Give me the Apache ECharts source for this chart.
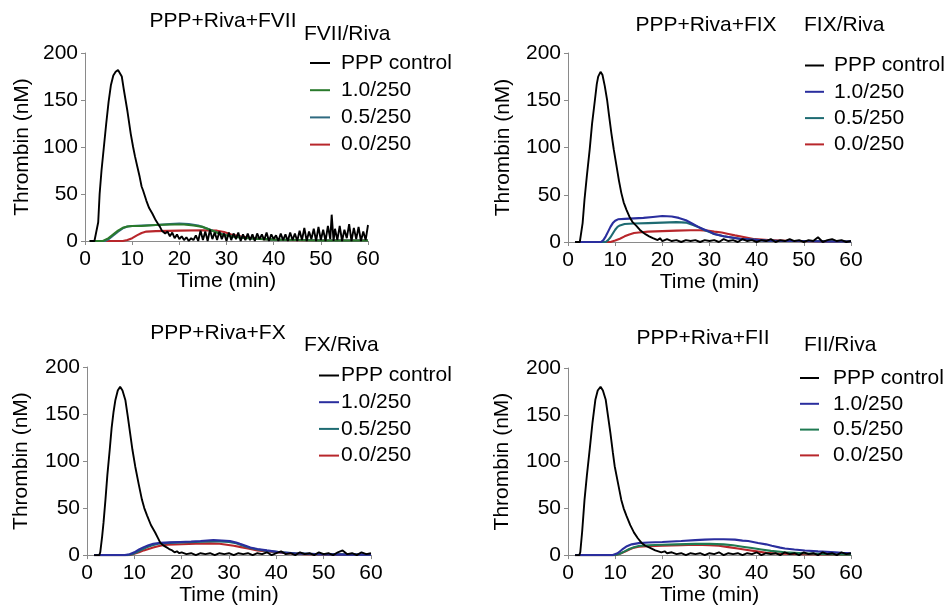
<!DOCTYPE html>
<html>
<head>
<meta charset="utf-8">
<script src="https://cdn.jsdelivr.net/npm/echarts@6/dist/echarts.min.js"></script>
<style>
  html, body { margin: 0; padding: 0; background: #fff; }
  #chart { width: 949px; height: 607px; }
</style>
</head>
<body>
<div id="chart"></div>
<script>
const panelTitles = ["PPP+Riva+FVII", "PPP+Riva+FIX", "PPP+Riva+FX", "PPP+Riva+FII"];
const legendTitles = ["FVII/Riva", "FIX/Riva", "FX/Riva", "FII/Riva"];
const seriesLabels = ["PPP control", "1.0/250", "0.5/250", "0.0/250"];
const xTicks = [0, 10, 20, 30, 40, 50, 60];
const yTicks = [0, 50, 100, 150, 200];

// FVII panel
const fviiControl = [[1,0],[2,0],[2.4,2],[2.8,20],[3.1,50],[3.5,75],[4,100],[4.5,125],[5,148],[5.5,166],[6,176],[6.5,180],[7,182],[7.4,183],[7.8,175],[8.2,162],[8.6,150],[9,138],[9.7,114],[10.2,100],[10.6,90],[11.1,79],[11.6,68],[12,58],[12.3,54],[13,43],[13.6,35],[14.3,29],[15,22],[15.5,18],[15.9,15],[16.3,11],[16.7,13],[17,8],[17.5,10],[18,5],[18.5,9],[19,3],[19.5,7],[20,2],[20.5,5],[21,1],[21.5,4],[22,0],[22.5,3],[23,1],[23.5,6],[24,0],[24.5,11],[25,1],[25.5,10],[26,0],[26.5,12],[27,2],[27.5,9],[28,1],[28.5,10],[29,2],[29.5,8],[30,0],[30.5,9],[31,1],[31.5,8],[32,2],[32.5,9],[33,0],[33.5,7],[34,1],[34.5,8],[35,1],[35.5,7],[36,0],[36.5,8],[37,2],[37.5,7],[38,1],[38.5,9],[39,0],[39.5,7],[40,2],[40.5,6],[41,0],[41.5,8],[42,1],[42.5,7],[43,0],[43.5,9],[44,1],[44.5,8],[45,0],[45.5,11],[46,1],[46.5,14],[47,0],[47.5,10],[48,2],[48.5,13],[49,0],[49.5,15],[50,1],[50.5,12],[51,0],[51.5,16],[52,2],[52.3,28],[52.7,0],[53,13],[53.5,1],[54,16],[54.5,0],[55,12],[55.5,3],[56,18],[56.5,0],[57,14],[57.5,2],[58,15],[58.5,0],[59,10],[59.5,1],[60,17]];
const fvii10 = [[1,0],[3.8,0],[5,3],[6,7],[7,11],[8,14],[9,15.5],[10,16],[12,16],[15,17],[18,17.5],[21,17.5],[23,16.5],[25,15],[27,11],[29,7],[31,5],[33,3.5],[36,2.5],[40,1.5],[45,1],[50,0.5],[55,0.5],[60,0.5]];
const fvii05 = [[1,0],[4.2,0],[5,2],[6,6],[7,10],[8,13.5],[9,15.5],[10,16],[12,16.5],[15,17],[18,18],[20,18.5],[22,18],[24,16.5],[26,13],[28,9],[30,6],[32,4.5],[35,3],[40,1.5],[45,1],[50,0.5],[60,0.5]];
const fvii00 = [[1,0],[8,0],[9,1],[10,3],[11,6],[12,8.5],[13,10],[15,10.5],[20,11],[25,11.5],[28,11],[29.5,9.5],[31,7],[33,5],[35,3.5],[38,2],[42,1],[50,0.5],[60,0.5]];

// FIX panel
const fixControl = [[1.5,0],[2.5,0],[2.7,2],[3.1,20],[3.5,45],[4,70],[4.6,98],[5.1,125],[5.7,150],[6.1,167],[6.4,175],[6.9,180],[7.3,177],[7.8,165],[8.3,150],[8.7,134],[9.2,115],[9.7,98],[10.3,80],[10.8,65],[11.3,52],[11.8,42],[12.4,34],[13,27],[13.7,21],[14.5,17],[15.2,13],[15.9,10],[16.5,8],[17.2,6],[18,4],[18.4,3],[19,2],[19.5,4],[20,1],[21,3],[22,1],[23,2],[24,0],[25,2],[26,1],[27,2],[28,0],[29,2],[30,1],[31,2],[32,0],[33,3],[34,1],[35,2],[36,0],[37,3],[38,1],[39,2],[40,0],[41,2],[42,1],[43,3],[44,0],[45,2],[46,1],[47,3],[48,1],[49,2],[50,0],[51,2],[52,1],[53,5],[54,0],[55,2],[56,3],[57,1],[58,2],[59,0],[60,1]];
const fix10 = [[1.5,0],[7,0],[7.5,2],[8,6],[8.5,11],[9,16],[9.5,20],[10,22.5],[10.6,24],[12,24.5],[14,25],[16,25.5],[18,26.5],[20,27.5],[22,27],[23.5,25.5],[25,23],[26.5,19],[28,15],[29,13],[30,11],[31,8.5],[33,6],[35,4.5],[37,3],[39,2.5],[42,1.5],[45,1],[50,1],[55,0.5],[60,0.5]];
const fix05 = [[1.5,0],[8,0],[8.5,2],[9,5],[9.5,9],[10,13],[10.5,16],[11,17.5],[12,19],[14,19.5],[17,20],[20,20.5],[23,21],[25,20.5],[26.5,18],[28,15],[29,12.5],[30,10.5],[31,8.5],[33,6],[35,4.5],[37,3],[39,2.5],[42,1.5],[45,1],[50,1],[60,0.5]];
const fix00 = [[1.5,0],[9,0],[10,1.5],[11,3.5],[12,6],[13,8],[14,9.5],[15,10],[17,11],[20,11.5],[23,12],[26,12.5],[28,12.5],[29.5,12],[31,11],[32.6,10],[34,8.5],[35.4,7],[37.5,5],[39.6,3],[42.5,2],[47.5,1],[55,0.5],[60,0.5]];

// FX panel
const fxControl = [[1.5,0],[2.6,0],[2.8,3],[3.2,20],[3.5,35],[3.9,59],[4.3,85],[4.8,112],[5.2,135],[5.6,152],[6,165],[6.5,175],[7,179],[7.5,175],[8.1,165],[8.6,148],[9.1,130],[9.6,112],[10.2,94],[10.9,76],[11.6,59],[12.1,50],[12.7,42],[13.5,32],[14.4,24],[15,18],[15.5,13],[16.2,10],[16.9,8],[17.5,6],[18,5],[18.5,3],[19,4],[19.5,2],[20,3],[21,1],[22,2],[23,0],[24,2],[25,1],[26,2],[27,0],[28,2],[29,1],[30,2],[31,0],[32,2],[33,1],[34,2],[35,0],[36,2],[37,1],[38,3],[39,0],[40,2],[41,4],[42,1],[43,2],[44,0],[45,3],[46,1],[47,2],[48,0],[49,3],[50,1],[51,2],[52,0],[53,3],[54,5],[55,1],[56,2],[57,0],[58,3],[59,1],[60,2]];
const fx10 = [[1.5,0],[8,0],[9,1],[10,3],[11,6],[12,8.5],[13,10.5],[14,12],[15.5,13],[17.5,13.5],[19.7,14],[22,14.5],[24,15],[26.7,16],[28.5,15.5],[30.2,15],[31.5,13.5],[32.3,12],[33.5,10],[34.5,8],[36,6.5],[38,5],[40.8,3],[43.6,2],[48.5,1],[55,0.5],[60,0.5]];
const fx05 = [[1.5,0],[8.5,0],[9.5,1],[10.5,3],[11.5,5.5],[12.5,8],[13.5,10],[15,12],[17.5,13],[20,13.5],[23,14],[26,14.5],[28,14.5],[30,14],[31.5,12.5],[33,10],[34.5,7.5],[36,6],[38,4.5],[41,3],[44,2],[48,1],[60,0.5]];
const fx00 = [[1.5,0],[9,0],[10,1.5],[11,3],[12,5],[13,6.5],[14,8],[15,9.5],[16,10.5],[17,11],[20,11.5],[23,12],[26,12.5],[28,12],[29.5,11],[31,10],[32.5,8.5],[34,7],[36,5],[38,4],[40,3],[42,2],[46,1],[52,0.5],[60,0.5]];

// FII panel
const fiiControl = [[1.5,0],[2.4,0],[2.6,3],[3,25],[3.5,59],[4,85],[4.6,113],[5.2,142],[5.8,166],[6.3,176],[6.9,180],[7.4,176],[8,166],[8.5,148],[9,130],[9.5,110],[9.9,95],[10.6,77],[11.3,59],[11.8,50],[12.4,42],[13.2,32],[14,24],[14.8,18],[15.6,13],[16.4,10],[17.3,8],[18.5,5],[19.8,3],[20.5,4],[21,2],[22,3],[23,1],[24,2],[25,0],[26,2],[27,1],[28,2],[29,0],[30,2],[31,1],[32,3],[33,0],[34,2],[35,1],[36,2],[37,0],[38,2],[39,1],[40,3],[41,0],[42,2],[43,1],[44,2],[45,0],[46,3],[47,1],[48,2],[49,0],[50,3],[51,1],[52,2],[53,0],[54,3],[55,1],[56,2],[57,0],[58,3],[59,1],[60,2]];
const fii10 = [[1.5,0],[9.5,0],[10.5,2],[11.5,6],[12.5,9.5],[13.5,11.5],[15,12.8],[17,13.5],[20,14],[22,14.5],[24,15],[27,16],[29,16.5],[31,17],[33,17],[35.4,16.5],[37,15.5],[38.2,15],[40.3,13],[42,11.5],[43.2,10],[45,8],[46,7],[48,6],[50.2,5],[53,4],[56.6,3],[58,2.5],[60,2]];
const fii05 = [[1.5,0],[10,0],[11,1.5],[12,4],[13,6.5],[14,8.5],[15,9.8],[17,10.5],[20,11],[23,11.5],[27,12],[30,12],[33,11.5],[35,10.5],[37,9],[39,7.5],[41,6],[43,4.5],[46,3],[50,2],[55,1],[60,0.5]];
const fii00 = [[1.5,0],[10,0],[11,1.5],[12,3.5],[13,6],[14,8],[15,9],[17,9.5],[20,10],[24,10.5],[27,11],[30,10.5],[32,10],[34,8.5],[36,7],[38,5.5],[40,4],[42,2.5],[45,1.5],[50,1],[60,0.5]];

const panelData = [
  [fviiControl, fvii10, fvii05, fvii00],
  [fixControl, fix10, fix05, fix00],
  [fxControl, fx10, fx05, fx00],
  [fiiControl, fii10, fii05, fii00],
];

// per panel: [control, 1.0, 0.5, 0.0]
const panelColors = [
  ["#000000", "#2a7a2c", "#2f6a80", "#b8262b"],
  ["#000000", "#2a2e9e", "#1e6b72", "#b8262b"],
  ["#000000", "#2a2e9e", "#1e6b72", "#b8262b"],
  ["#000000", "#2a2e9e", "#1f7a52", "#b8262b"],
];

const font = "'Liberation Sans', Arial, Helvetica, sans-serif";

const layout = [
  { grid: { left: 85, top: 53, width: 283, height: 188 }, title: [223, 10.5], legTitle: [304, 23.5], legend: { left: 310, top: 52.5, w: 20, pad: 6, gap: 6.2 }, nameGapX: 30, nameGapY: 52 },
  { grid: { left: 568, top: 53, width: 283, height: 189 }, title: [706, 14.5], legTitle: [804, 14.5], legend: { left: 805, top: 55, w: 19, pad: 5, gap: 5.3 }, nameGapX: 30, nameGapY: 54 },
  { grid: { left: 87, top: 367, width: 284, height: 189 }, title: [218, 322.5], legTitle: [304, 334.5], legend: { left: 319, top: 365, w: 20, pad: -3, gap: 5.7 }, nameGapX: 26, nameGapY: 55 },
  { grid: { left: 568, top: 368, width: 283, height: 188 }, title: [703, 327.5], legTitle: [804, 334.5], legend: { left: 800, top: 367.5, w: 19, pad: 9, gap: 4.8 }, nameGapX: 26, nameGapY: 55 },
];

function seriesName(p, i) {
  return legendTitles[p] + "|" + seriesLabels[i];
}

const grids = [], xAxes = [], yAxes = [], titles = [], legends = [], series = [];

layout.forEach((L, p) => {
  grids.push(L.grid);
  const axisLine = { show: true, lineStyle: { color: "#8a8a8a", width: 1 } };
  const axisTick = { show: true, length: 4, lineStyle: { color: "#8a8a8a" } };
  xAxes.push({
    gridIndex: p, type: "value", min: xTicks[0], max: xTicks[xTicks.length - 1], interval: 10,
    name: "Time (min)", nameLocation: "middle", nameGap: L.nameGapX,
    nameTextStyle: { fontFamily: font, fontSize: 21, color: "#000" },
    axisLine, axisTick, splitLine: { show: false },
    axisLabel: { fontFamily: font, fontSize: 21, color: "#000", margin: 8 },
  });
  yAxes.push({
    gridIndex: p, type: "value", min: yTicks[0], max: yTicks[yTicks.length - 1], interval: 50,
    name: "Thrombin (nM)", nameLocation: "middle", nameGap: L.nameGapY,
    nameTextStyle: { fontFamily: font, fontSize: 21, color: "#000" },
    axisLine, axisTick, splitLine: { show: false },
    axisLabel: { fontFamily: font, fontSize: 21, color: "#000", margin: 7 },
  });
  titles.push({
    text: panelTitles[p], left: L.title[0], top: L.title[1], textAlign: "center", padding: 0,
    textStyle: { fontFamily: font, fontSize: 21, fontWeight: "normal", color: "#000", lineHeight: 21 },
  });
  titles.push({
    text: legendTitles[p], left: L.legTitle[0], top: L.legTitle[1], padding: 0,
    textStyle: { fontFamily: font, fontSize: 21, fontWeight: "normal", color: "#000", lineHeight: 21 },
  });
  legends.push({
    orient: "vertical", left: L.legend.left, top: L.legend.top, padding: 0,
    itemWidth: L.legend.w, itemHeight: 2, itemGap: L.legend.gap, icon: "rect",
    selectedMode: false,
    data: seriesLabels.map((s, i) => seriesName(p, i)),
    formatter: (name) => name.split("|")[1],
    textStyle: { fontFamily: font, fontSize: 21, color: "#000", lineHeight: 21, padding: [0, 0, 0, L.legend.pad] },
  });
  // draw order: 0.0, 0.5, 1.0, control on top
  [3, 2, 1, 0].forEach((i) => {
    const c = panelColors[p][i];
    series.push({
      name: seriesName(p, i), type: "line", xAxisIndex: p, yAxisIndex: p,
      data: panelData[p][i], showSymbol: false, symbol: "none", smooth: false,
      itemStyle: { color: c }, lineStyle: { color: c, width: i === 0 ? 1.9 : 2.1 },
    });
  });
});

const option = {
  animation: false,
  backgroundColor: "#fff",
  textStyle: { fontFamily: font },
  title: titles,
  legend: legends,
  grid: grids,
  xAxis: xAxes,
  yAxis: yAxes,
  series,
};

const mc = echarts.init(document.getElementById("chart"), null, { renderer: "canvas" });
mc.setOption(option);
</script>
</body>
</html>
